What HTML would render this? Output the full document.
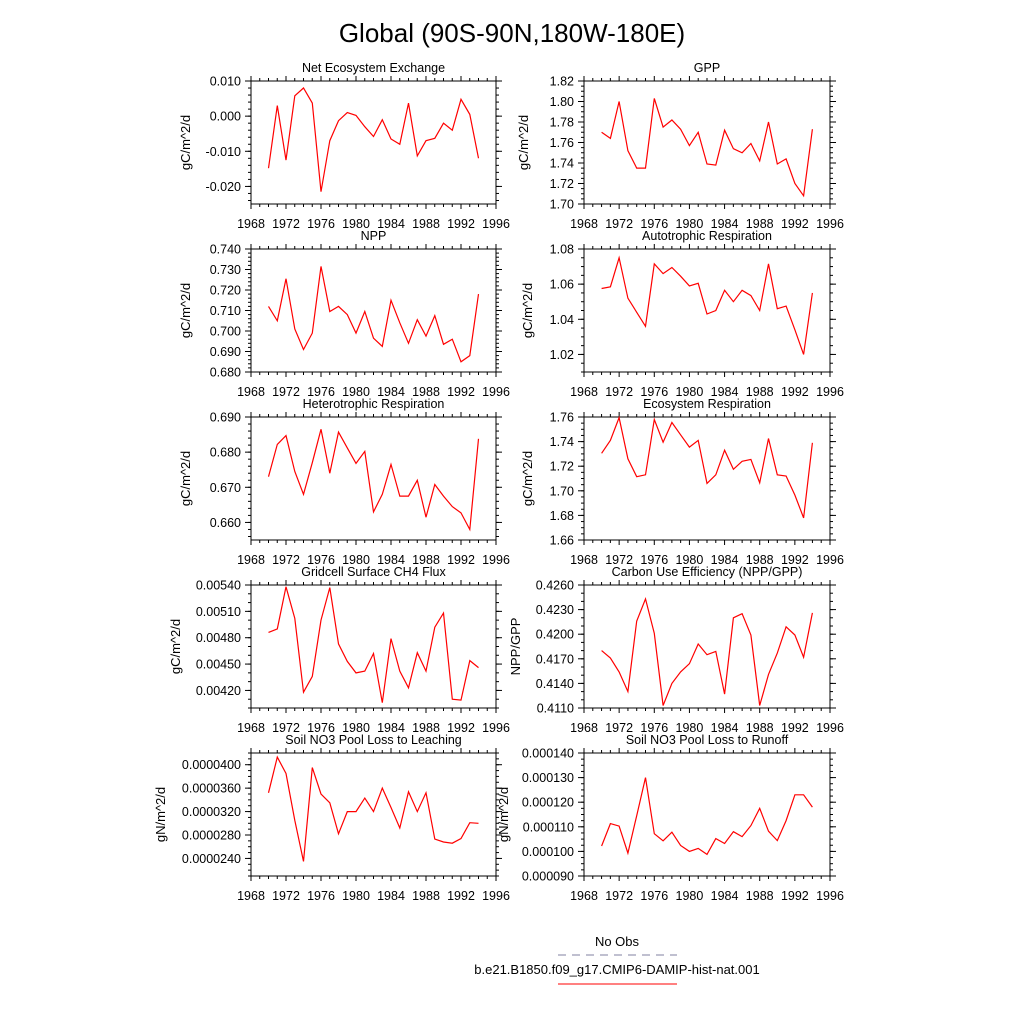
<!DOCTYPE html>
<html><head><meta charset="utf-8"><style>
body{margin:0;background:#fff;}
svg{display:block;font-family:"Liberation Sans",sans-serif;}
</style></head><body>
<svg id="c" width="1024" height="1024" viewBox="0 0 1024 1024">
<text x="512" y="42" font-size="26" text-anchor="middle">Global (90S-90N,180W-180E)</text>
<g id="panels"></g>
<g>
<text x="617" y="946" font-size="13" text-anchor="middle">No Obs</text>
<line x1="558" y1="955" x2="677" y2="955" stroke="#8080a0" stroke-dasharray="8,6"/>
<text x="617" y="974" font-size="13" text-anchor="middle">b.e21.B1850.f09_g17.CMIP6-DAMIP-hist-nat.001</text>
<line x1="558" y1="984" x2="677" y2="984" stroke="red"/>
</g>
</svg>
<script>
const years=[1970,1971,1972,1973,1974,1975,1976,1977,1978,1979,1980,1981,1982,1983,1984,1985,1986,1987,1988,1989,1990,1991,1992,1993,1994];
const xTicks=[1968,1972,1976,1980,1984,1988,1992,1996];
const neeValues=[-0.0148,0.003,-0.0125,0.0058,0.008,0.0037,-0.0215,-0.007,-0.0013,0.001,0.0002,-0.003,-0.0058,-0.001,-0.0065,-0.008,0.0037,-0.0113,-0.007,-0.0063,-0.002,-0.004,0.0048,0.0005,-0.012];
const gppValues=[1.770,1.764,1.800,1.752,1.735,1.735,1.803,1.775,1.782,1.773,1.757,1.770,1.739,1.738,1.772,1.754,1.750,1.759,1.742,1.780,1.739,1.744,1.720,1.708,1.773];
const nppValues=[0.712,0.705,0.7255,0.701,0.691,0.699,0.7315,0.7095,0.712,0.708,0.699,0.7095,0.6965,0.6925,0.715,0.704,0.694,0.7055,0.6975,0.7075,0.6935,0.696,0.685,0.688,0.718];
const arValues=[1.0575,1.0585,1.075,1.052,1.044,1.036,1.0715,1.066,1.0695,1.0645,1.059,1.0605,1.043,1.045,1.0565,1.050,1.0565,1.0535,1.045,1.0715,1.046,1.0475,1.034,1.020,1.055];
const hrValues=[0.673,0.6822,0.6847,0.6745,0.668,0.677,0.6865,0.674,0.6857,0.6812,0.6768,0.6802,0.663,0.668,0.6765,0.6675,0.6675,0.672,0.6615,0.6708,0.6675,0.6645,0.6627,0.658,0.6838];
const erValues=[1.7305,1.741,1.7595,1.726,1.7115,1.713,1.758,1.7395,1.7555,1.7455,1.7355,1.741,1.706,1.713,1.733,1.7175,1.724,1.7255,1.7065,1.7425,1.713,1.712,1.6965,1.678,1.739];
const ch4Values=[0.00486,0.00490,0.00538,0.00502,0.00418,0.00436,0.00500,0.00537,0.00473,0.00453,0.00440,0.00442,0.00462,0.00406,0.00479,0.00442,0.00423,0.00463,0.00442,0.00492,0.00508,0.00410,0.00409,0.00454,0.00446];
const cueValues=[0.4180,0.4171,0.4154,0.4130,0.4216,0.4243,0.4201,0.4113,0.4140,0.4154,0.4164,0.4188,0.4175,0.4179,0.4127,0.4220,0.4225,0.4199,0.4113,0.4151,0.4177,0.4209,0.4199,0.4172,0.4226];
const leachValues=[3.52e-5,4.13e-5,3.85e-5,3.05e-5,2.35e-5,3.95e-5,3.50e-5,3.35e-5,2.82e-5,3.20e-5,3.20e-5,3.43e-5,3.20e-5,3.60e-5,3.27e-5,2.92e-5,3.54e-5,3.20e-5,3.52e-5,2.73e-5,2.68e-5,2.66e-5,2.74e-5,3.01e-5,3.00e-5];
const runoffValues=[10.22e-5,11.13e-5,11.03e-5,9.93e-5,11.45e-5,13.0e-5,10.72e-5,10.43e-5,10.78e-5,10.24e-5,10.0e-5,10.12e-5,9.88e-5,10.52e-5,10.32e-5,10.8e-5,10.6e-5,11.05e-5,11.75e-5,10.82e-5,10.44e-5,11.25e-5,12.3e-5,12.3e-5,11.8e-5];
const neeTicks=[0.01,0,-0.01,-0.02];const neeLabels=["0.010","0.000","-0.010","-0.020"];
const gppTicks=[1.70,1.72,1.74,1.76,1.78,1.80,1.82];const gppLabels=["1.70","1.72","1.74","1.76","1.78","1.80","1.82"];
const nppTicks=[0.68,0.69,0.70,0.71,0.72,0.73,0.74];const nppLabels=["0.680","0.690","0.700","0.710","0.720","0.730","0.740"];
const arTicks=[1.02,1.04,1.06,1.08];const arLabels=["1.02","1.04","1.06","1.08"];
const hrTicks=[0.66,0.67,0.68,0.69];const hrLabels=["0.660","0.670","0.680","0.690"];
const erTicks=[1.66,1.68,1.70,1.72,1.74,1.76];const erLabels=["1.66","1.68","1.70","1.72","1.74","1.76"];
const ch4Ticks=[0.0042,0.0045,0.0048,0.0051,0.0054];const ch4Labels=["0.00420","0.00450","0.00480","0.00510","0.00540"];
const cueTicks=[0.411,0.414,0.417,0.42,0.423,0.426];const cueLabels=["0.4110","0.4140","0.4170","0.4200","0.4230","0.4260"];
const leachTicks=[2.4e-5,2.8e-5,3.2e-5,3.6e-5,4.0e-5];const leachLabels=["0.0000240","0.0000280","0.0000320","0.0000360","0.0000400"];
const runoffTicks=[9e-5,10e-5,11e-5,12e-5,13e-5,14e-5];const runoffLabels=["0.000090","0.000100","0.000110","0.000120","0.000130","0.000140"];

const panels=[
 {n:'nee',t:'Net Ecosystem Exchange',yl:'gC/m^2/d',c:0,r:0,min:-0.025,max:0.010,minor:0.002,d:neeValues,tk:neeTicks,tl:neeLabels,lx:190},
 {n:'gpp',t:'GPP',yl:'gC/m^2/d',c:1,r:0,min:1.70,max:1.82,minor:0.005,d:gppValues,tk:gppTicks,tl:gppLabels,lx:528},
 {n:'npp',t:'NPP',yl:'gC/m^2/d',c:0,r:1,min:0.68,max:0.74,minor:0.002,d:nppValues,tk:nppTicks,tl:nppLabels,lx:190},
 {n:'ar',t:'Autotrophic Respiration',yl:'gC/m^2/d',c:1,r:1,min:1.01,max:1.08,minor:0.005,d:arValues,tk:arTicks,tl:arLabels,lx:532},
 {n:'hr',t:'Heterotrophic Respiration',yl:'gC/m^2/d',c:0,r:2,min:0.655,max:0.690,minor:0.002,d:hrValues,tk:hrTicks,tl:hrLabels,lx:190},
 {n:'er',t:'Ecosystem Respiration',yl:'gC/m^2/d',c:1,r:2,min:1.66,max:1.76,minor:0.005,d:erValues,tk:erTicks,tl:erLabels,lx:532},
 {n:'ch4',t:'Gridcell Surface CH4 Flux',yl:'gC/m^2/d',c:0,r:3,min:0.0040,max:0.0054,minor:0.0001,d:ch4Values,tk:ch4Ticks,tl:ch4Labels,lx:180},
 {n:'cue',t:'Carbon Use Efficiency (NPP/GPP)',yl:'NPP/GPP',c:1,r:3,min:0.411,max:0.426,minor:0.001,d:cueValues,tk:cueTicks,tl:cueLabels,lx:520},
 {n:'leach',t:'Soil NO3 Pool Loss to Leaching',yl:'gN/m^2/d',c:0,r:4,min:2.1e-5,max:4.2e-5,minor:0.1e-5,d:leachValues,tk:leachTicks,tl:leachLabels,lx:165},
 {n:'runoff',t:'Soil NO3 Pool Loss to Runoff',yl:'gN/m^2/d',c:1,r:4,min:9e-5,max:14e-5,minor:0.25e-5,d:runoffValues,tk:runoffTicks,tl:runoffLabels,lx:508}
];
const NS='http://www.w3.org/2000/svg';
const root=document.getElementById('panels');
function mk(tag,attrs,parent){const e=document.createElementNS(NS,tag);for(const k in attrs)e.setAttribute(k,attrs[k]);parent.appendChild(e);return e;}
panels.forEach(p=>{
 const L=p.c?584:251, R=p.c?830:496, T=81+168*p.r, B=T+123;
 const xs=v=>L+(v-1968)/(1996-1968)*(R-L);
 const ys=v=>B-(v-p.min)/(p.max-p.min)*(B-T);
 const g=mk('g',{},root);
 
 
 const tt=mk('text',{x:(L+R)/2,y:T-9,'font-size':12.5,'text-anchor':'middle'},g);
 
 
 tt.textContent=p.t;
 const yl=mk('text',{x:0,y:0,'font-size':13,'text-anchor':'middle',transform:`translate(${p.lx},${(T+B)/2}) rotate(-90)`},g);
 
 
 yl.textContent=p.yl;
 const ax=mk('g',{stroke:'#000','stroke-width':1,fill:'none'},g);
 
 
 mk('rect',{x:L,y:T,width:R-L,height:B-T},ax);
 for(let y=1968;y<=1996;y++){const x=xs(y);const len=(y%4===0)?5:3;mk('line',{x1:x,y1:B,x2:x,y2:B+len},ax);mk('line',{x1:x,y1:T,x2:x,y2:T-len},ax);}
 const nmin=Math.ceil(p.min/p.minor-1e-6), nmax=Math.floor(p.max/p.minor+1e-6);
 for(let k=nmin;k<=nmax;k++){const y=ys(k*p.minor);mk('line',{x1:L,y1:y,x2:L-3,y2:y},ax);mk('line',{x1:R,y1:y,x2:R+3,y2:y},ax);}
 p.tk.forEach((v,i)=>{const y=ys(v);mk('line',{x1:L,y1:y,x2:L-6,y2:y},ax);mk('line',{x1:R,y1:y,x2:R+6,y2:y},ax);
  const t=mk('text',{x:L-10,y:y+4.5,'font-size':12.5,'text-anchor':'end'},g);
  
  
  t.textContent=p.tl[i];});
 xTicks.forEach(v=>{const t=mk('text',{x:xs(v),y:B+24,'font-size':12.5,'text-anchor':'middle'},g);
  
  
  t.textContent=v;});
 const pts=years.map((yr,i)=>xs(yr).toFixed(1)+','+ys(p.d[i]).toFixed(1)).join(' ');
 const pl=mk('polyline',{points:pts,fill:'none',stroke:'red','stroke-width':1.2},g);
 
 
});
</script>
</body></html>
